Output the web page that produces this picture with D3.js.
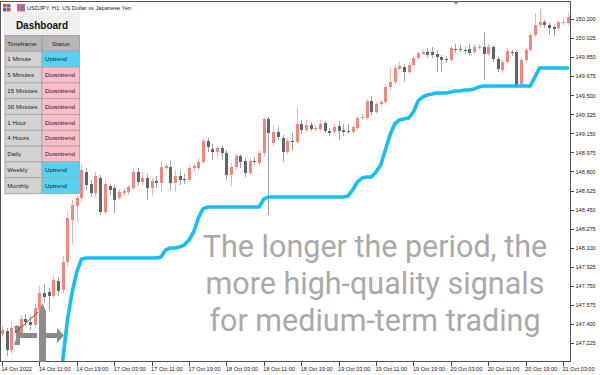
<!DOCTYPE html>
<html lang="en">
<head>
<meta charset="UTF-8">
<title>USDJPY H1</title>
<script src="https://cdn.jsdelivr.net/npm/d3@7"></script>
<style>
  body { margin: 0; background: #fff; }
  svg { display: block; font-family: "Liberation Sans", Arial, sans-serif; }
  .axis line { stroke: #444; shape-rendering: crispEdges; }
  .axis path { display: none; }
  .axis text { font-size: 5.6px; fill: #222; }
</style>
</head>
<body>
<svg id="chart" width="600" height="375"></svg>
<script>
// hourly bars, 14 Oct 03:00 .. 21 Oct 04:00
var open = [
  147.308,147.335,147.161,147.363,147.317,147.445,147.418,147.390,147.528,147.684,
  147.693,147.657,147.794,147.712,147.969,148.354,148.483,148.557,148.795,148.685,
  148.602,148.740,148.428,148.667,148.648,148.557,148.602,148.612,148.648,148.795,
  148.703,148.740,148.648,148.713,148.694,148.832,148.841,148.694,148.759,148.731,
  148.722,148.832,148.832,148.887,149.080,149.006,148.979,149.016,148.970,148.768,
  148.841,148.942,148.896,148.786,148.896,148.878,148.970,149.282,149.062,149.163,
  149.107,148.979,149.080,149.071,149.236,149.181,149.227,149.190,149.190,149.245,
  149.172,149.163,149.218,149.181,149.172,149.163,149.199,149.291,149.291,149.447,
  149.346,149.420,149.438,149.576,149.622,149.741,149.759,149.713,149.778,149.842,
  149.879,149.897,149.897,149.879,149.851,149.833,149.824,149.925,149.925,149.915,
  149.925,149.897,149.934,149.943,149.879,149.943,149.833,149.732,149.805,149.897,
  149.897,149.576,149.824,149.915,150.053,150.145,150.172,150.145,150.127,150.117,
  150.163,150.163];
var high = [
  147.381,147.363,147.418,147.390,147.482,147.491,147.473,147.583,147.748,147.767,
  147.730,147.849,147.831,148.024,148.419,148.538,148.612,148.860,148.832,148.722,
  148.795,148.768,148.722,148.685,148.676,148.639,148.648,148.676,148.832,148.832,
  148.795,148.777,148.740,148.759,148.896,148.869,148.905,148.814,148.814,148.777,
  148.860,148.869,148.924,149.107,149.107,149.052,149.034,149.034,148.997,148.878,
  148.961,148.961,148.924,148.924,148.933,148.997,149.291,149.300,149.218,149.208,
  149.135,149.107,149.153,149.392,149.273,149.273,149.254,149.227,149.273,149.264,
  149.199,149.236,149.264,149.236,149.236,149.227,149.309,149.328,149.466,149.493,
  149.438,149.456,149.603,149.750,149.778,149.805,149.787,149.805,149.860,149.897,
  149.915,149.934,149.943,149.915,149.870,149.860,149.952,149.971,149.961,149.943,
  149.971,149.971,149.971,150.081,149.971,149.961,149.851,149.824,149.934,149.915,
  149.915,149.842,149.934,150.072,150.255,150.292,150.191,150.163,150.145,150.191,
  150.209,150.264];
var low = [
  147.280,147.106,147.124,147.271,147.299,147.381,147.344,147.363,147.473,147.592,
  147.528,147.638,147.657,147.684,147.932,148.134,148.336,148.520,148.630,148.566,
  148.566,148.400,148.410,148.584,148.419,148.538,148.575,148.584,148.630,148.667,
  148.676,148.538,148.575,148.648,148.612,148.814,148.630,148.612,148.676,148.685,
  148.703,148.795,148.814,148.869,148.979,148.905,148.924,148.905,148.722,148.667,
  148.814,148.832,148.749,148.768,148.860,148.850,148.942,148.400,149.034,149.089,
  148.887,148.961,148.997,149.052,149.144,149.163,149.172,149.172,149.172,149.153,
  149.126,149.144,149.089,149.126,149.144,149.144,149.181,149.273,149.273,149.319,
  149.328,149.401,149.420,149.548,149.603,149.732,149.622,149.695,149.769,149.824,
  149.870,149.842,149.842,149.713,149.713,149.796,149.805,149.888,149.897,149.879,
  149.870,149.879,149.915,149.640,149.860,149.805,149.713,149.704,149.787,149.860,
  149.567,149.567,149.805,149.897,150.035,150.127,150.117,150.053,150.044,150.099,
  150.145,150.145];
var close = [
  147.344,147.161,147.363,147.317,147.445,147.418,147.390,147.546,147.684,147.647,
  147.657,147.804,147.703,147.969,148.373,148.492,148.557,148.814,148.676,148.602,
  148.759,148.428,148.685,148.630,148.538,148.612,148.621,148.658,148.795,148.703,
  148.740,148.648,148.713,148.694,148.841,148.850,148.694,148.759,148.722,148.722,
  148.832,148.850,148.887,149.080,149.025,148.979,149.016,148.970,148.768,148.841,
  148.942,148.887,148.786,148.896,148.887,148.970,149.282,149.153,149.163,149.117,
  148.979,149.080,149.071,149.236,149.181,149.227,149.190,149.199,149.236,149.172,
  149.153,149.208,149.172,149.163,149.163,149.208,149.291,149.300,149.447,149.346,
  149.420,149.438,149.576,149.622,149.750,149.769,149.713,149.778,149.842,149.888,
  149.897,149.870,149.870,149.851,149.824,149.824,149.934,149.915,149.915,149.906,
  149.888,149.943,149.943,149.879,149.943,149.833,149.741,149.805,149.906,149.888,
  149.576,149.824,149.915,150.053,150.145,150.172,150.145,150.117,150.108,150.172,
  150.172,150.218];
// trend line of the indicator (blue)
var signal = [
  null,null,null,null,null,null,null,null,null,null,
  null,null,null,147.069,147.436,147.693,147.877,147.996,148.006,148.006,
  148.006,148.006,148.006,148.006,148.006,148.006,148.006,148.006,148.006,148.006,
  148.006,148.006,148.006,148.006,148.015,148.079,148.097,148.097,148.107,148.125,
  148.171,148.244,148.373,148.456,148.474,148.474,148.474,148.474,148.474,148.474,
  148.474,148.474,148.474,148.474,148.474,148.474,148.547,148.566,148.566,148.566,
  148.566,148.566,148.566,148.566,148.566,148.566,148.566,148.566,148.566,148.566,
  148.566,148.566,148.566,148.566,148.575,148.630,148.703,148.740,148.749,148.749,
  148.795,148.860,148.997,149.135,149.236,149.273,149.282,149.291,149.346,149.447,
  149.484,149.502,149.511,149.521,149.521,149.521,149.530,149.539,149.539,149.548,
  149.548,149.557,149.576,149.585,149.585,149.585,149.585,149.585,149.585,149.585,
  149.585,149.585,149.585,149.585,149.668,149.750,149.750,149.750,149.750,149.750,
  149.750,149.750];

var priceTicks = [150.200,150.025,149.850,149.675,149.500,149.325,149.150,148.975,148.800,
  148.625,148.450,148.275,148.100,147.925,147.750,147.575,147.400,147.225];
var timeTickBars = [0,8,16,24,32,40,48,56,64,72,80,88,96,104,112,120];
var timeLabels = ["14 Oct 2022","14 Oct 11:00","14 Oct 19:00","17 Oct 03:00","17 Oct 11:00",
  "17 Oct 19:00","18 Oct 03:00","18 Oct 11:00","18 Oct 19:00","19 Oct 03:00","19 Oct 11:00",
  "19 Oct 19:00","20 Oct 03:00","20 Oct 11:00","20 Oct 19:00","21 Oct 03:00"];

var timeframes = ["1 Minute","5 Minutes","15 Minutes","30 Minutes","1 Hour","4 Hours","Daily","Weekly","Monthly"];
var statuses = ["Uptrend","Downtrend","Downtrend","Downtrend","Downtrend","Downtrend","Downtrend","Uptrend","Uptrend"];

var watermark = ["The longer the period, the", "more high-quality signals", "for medium-term trading"];

var plotRight = 570, plotTop = 1, plotBottom = 361;
var barStep = 4.675;

var svg = d3.select("#chart");
var x = d3.scaleLinear().domain([0, open.length - 1]).range([2, 2 + barStep * (open.length - 1)]);
var y = d3.scaleLinear().domain([147.225, 150.2]).range([343, 19]);

svg.append("clipPath").attr("id", "plot")
  .append("rect").attr("x", 0).attr("y", plotTop).attr("width", plotRight).attr("height", plotBottom - plotTop);

var bars = open.map(function (o, i) {
  return { i: i, o: o, h: high[i], l: low[i], c: close[i] };
});

var plot = svg.append("g").attr("clip-path", "url(#plot)");

// wicks
plot.selectAll("line.wick").data(bars).enter().append("line")
  .attr("class", "wick")
  .attr("x1", function (d) { return Math.round(x(d.i)) + 0.5; })
  .attr("x2", function (d) { return Math.round(x(d.i)) + 0.5; })
  .attr("y1", function (d) { return y(d.h); })
  .attr("y2", function (d) { return y(d.l); })
  .attr("stroke", function (d) { return d.c >= d.o ? "#f7b3ab" : "#9ea3a9"; })
  .attr("stroke-width", 1);

// bodies
plot.selectAll("rect.body").data(bars).enter().append("rect")
  .attr("class", "body")
  .attr("x", function (d) { return Math.round(x(d.i)) - 1; })
  .attr("width", 3)
  .attr("y", function (d) { return y(Math.max(d.o, d.c)); })
  .attr("height", function (d) { return Math.max(1, Math.abs(y(d.o) - y(d.c))); })
  .attr("fill", function (d) { return d.c >= d.o ? "#f4877b" : "#5e656d"; });

// blue trend line
var line = d3.line()
  .defined(function (d) { return d != null; })
  .x(function (d, i) { return x(i); })
  .y(function (d) { return y(d); });
plot.append("path").datum(signal)
  .attr("d", line)
  .attr("fill", "none")
  .attr("stroke", "#16bff5")
  .attr("stroke-width", 3.6)
  .attr("stroke-linejoin", "round")
  .attr("stroke-linecap", "round");

// frame
svg.append("path")
  .attr("d", "M0.5," + (plotTop + 0.5) + "H" + (plotRight + 0.5) + "V" + (plotBottom + 0.5) + "H0.5Z")
  .attr("fill", "none").attr("stroke", "#555").attr("shape-rendering", "crispEdges");

// price axis
var yAxis = svg.append("g").attr("class", "axis")
  .attr("transform", "translate(" + (plotRight + 0.5) + ",0)")
  .call(d3.axisRight(y).tickValues(priceTicks).tickSize(3).tickPadding(2).tickFormat(d3.format(".3f")));

// time axis
var xAxis = svg.append("g").attr("class", "axis")
  .attr("transform", "translate(0," + (plotBottom + 0.5) + ")")
  .call(d3.axisBottom(x).tickValues(timeTickBars).tickSize(4).tickPadding(2)
    .tickFormat(function (d, i) { return timeLabels[i]; }));
xAxis.selectAll("text").attr("text-anchor", "start").attr("dx", "-1px");

// small shift marker at the top
svg.append("path").attr("d", "M453,1.5 L459,1.5 L456,5 Z").attr("fill", "#9a9a9a");

// title + icons
var icon = svg.append("g").attr("transform", "translate(3,4)");
icon.append("rect").attr("width", 3.5).attr("height", 3.5).attr("fill", "#e8443a");
icon.append("rect").attr("x", 4).attr("width", 3.5).attr("height", 3.5).attr("fill", "#3a6fd8");
icon.append("rect").attr("y", 4).attr("width", 3.5).attr("height", 3.5).attr("fill", "#3a6fd8");
icon.append("rect").attr("x", 4).attr("y", 4).attr("width", 3.5).attr("height", 3.5).attr("fill", "#e8443a");
var icon2 = svg.append("g").attr("transform", "translate(17,4)");
icon2.append("rect").attr("width", 8).attr("height", 7.5).attr("fill", "#f06060");
icon2.append("rect").attr("x", 3.5).attr("y", 2).attr("width", 4).attr("height", 5).attr("fill", "#3d8be0");
svg.append("text").attr("x", 27).attr("y", 9.8)
  .attr("font-size", "5.7px").attr("fill", "#222")
  .text("USDJPY, H1:  US Dollar vs Japanese Yen");

// watermark logo (bottom left)
var logo = svg.append("g").attr("fill", "#8b8b8b");
logo.append("path").attr("d", "M14,326 L20,326 L20,333 L37,333 L37,338 L20,338 L20,345 L14,345 L17,335.5 Z");
logo.append("path").attr("d", "M39,312 L42.5,303 L46,312 L46,362 L39,362 Z");
logo.append("path").attr("d", "M46,333 L57,333 L57,328 L64,335.5 L57,343 L57,338 L46,338 Z");
svg.append("line").attr("x1", 16).attr("y1", 332).attr("x2", 38).attr("y2", 312)
  .attr("stroke", "#555").attr("stroke-width", 1);

// watermark text
svg.append("g").selectAll("text").data(watermark).enter().append("text")
  .attr("x", 375)
  .attr("y", function (d, i) { return 257 + i * 37; })
  .attr("text-anchor", "middle")
  .attr("font-family", "Roboto, sans-serif")
  .attr("font-size", "30.5px")
  .attr("fill", "#a9a9a9")
  .text(function (d) { return d; });

// dashboard
var dash = svg.append("g");
dash.append("rect").attr("x", 4).attr("y", 12).attr("width", 76).attr("height", 183).attr("fill", "#f0f0f0");
dash.append("text").attr("x", 42).attr("y", 28.5).attr("text-anchor", "middle")
  .attr("font-size", "10px").attr("font-weight", "bold").attr("fill", "#111").text("Dashboard");

var colX = [5, 42], colW = [37, 37.5], rowH = 15.8, headY = 35.5;
dash.append("rect").attr("x", colX[0]).attr("y", headY).attr("width", colW[0]).attr("height", rowH)
  .attr("fill", "#b7b7b7").attr("stroke", "#9a9a9a").attr("stroke-width", 0.8);
dash.append("rect").attr("x", colX[1]).attr("y", headY).attr("width", colW[1]).attr("height", rowH)
  .attr("fill", "#b7b7b7").attr("stroke", "#9a9a9a").attr("stroke-width", 0.8);
dash.append("text").attr("x", 7.3).attr("y", headY + 10.2).attr("font-size", "6.2px").attr("fill", "#222").text("Timeframe");
dash.append("text").attr("x", colX[1] + colW[1] / 2).attr("y", headY + 10.2).attr("text-anchor", "middle")
  .attr("font-size", "6.2px").attr("fill", "#222").text("Status");

var rows = dash.selectAll("g.row").data(timeframes).enter().append("g")
  .attr("transform", function (d, i) { return "translate(0," + (headY + rowH * (i + 1)) + ")"; });
rows.append("rect").attr("x", colX[0]).attr("width", colW[0]).attr("height", rowH)
  .attr("fill", "#d3d3d3").attr("stroke", "#a3a3a3").attr("stroke-width", 0.8);
rows.append("rect").attr("x", colX[1]).attr("width", colW[1]).attr("height", rowH)
  .attr("fill", function (d, i) { return statuses[i] === "Uptrend" ? "#57d2f2" : "#ffbcc6"; })
  .attr("stroke", "#a3a3a3").attr("stroke-width", 0.8);
rows.append("text").attr("x", 7.3).attr("y", 10.2).attr("font-size", "6.2px").attr("fill", "#222")
  .text(function (d) { return d; });
rows.append("text").attr("x", colX[1] + 3).attr("y", 10.2).attr("font-size", "6.2px").attr("fill", "#222")
  .text(function (d, i) { return statuses[i]; });
</script>
</body>
</html>
